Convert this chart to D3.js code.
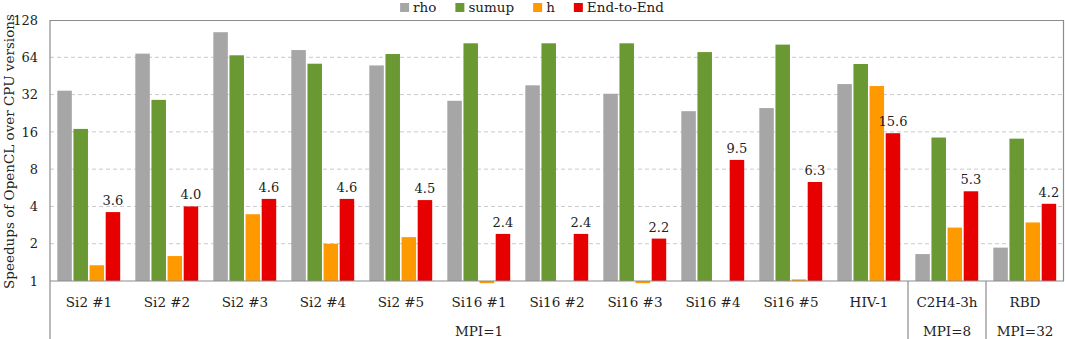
<!DOCTYPE html>
<html>
<head>
<meta charset="utf-8">
<script src="https://cdn.jsdelivr.net/npm/d3@7"></script>
<style>
  body { margin: 0; background: #fff; }
  svg text { font-family: "DejaVu Serif", serif; fill: #222; }
</style>
</head>
<body>
<script>
// ----- data -----
var categories = ["Si2 #1", "Si2 #2", "Si2 #3", "Si2 #4", "Si2 #5",
  "Si16 #1", "Si16 #2", "Si16 #3", "Si16 #4", "Si16 #5", "HIV-1", "C2H4-3h", "RBD"];
var seriesNames = ["rho", "sumup", "h", "End-to-End"];
var rho   = [34.4, 68.5, 102, 73.2, 55, 28.5, 38, 32.5, 23.5, 24.9, 38.9, 1.65, 1.86];
var sumup = [16.9, 29, 66.4, 56.8, 68, 83, 83, 83, 70.5, 81, 56.5, 14.4, 14.1];
var h     = [1.34, 1.59, 3.46, 2.0, 2.26, 0.96, null, 0.96, null, 1.03, 37.5, 2.7, 2.97];
var e2e   = [3.6, 4.0, 4.6, 4.6, 4.5, 2.4, 2.4, 2.2, 9.5, 6.3, 15.6, 5.3, 4.2];
var mpiGroups = [
  { label: "MPI=1", from: 0, to: 10 },
  { label: "MPI=8", from: 11, to: 11 },
  { label: "MPI=32", from: 12, to: 12 }
];
var yTicks = [1, 2, 4, 8, 16, 32, 64, 128];
var colors = ["#a6a6a6", "#6a9934", "#ff9900", "#e60000"];

var series = [rho, sumup, h, e2e];

// ----- layout -----
var W = 1065, H = 339;
var margin = { top: 20, right: 1, bottom: 58, left: 50 };
var width = W - margin.left - margin.right;
var height = H - margin.top - margin.bottom;

var svg = d3.select("body").append("svg")
  .attr("width", W).attr("height", H);

var g = svg.append("g")
  .attr("transform", "translate(" + margin.left + "," + margin.top + ")");

var x0 = d3.scaleBand().domain(categories).range([0, width]).padding(0);
var x1 = d3.scaleBand().domain(seriesNames)
  .range([x0.bandwidth() * 0.094, x0.bandwidth() * 0.9]).paddingInner(0.1);
var y = d3.scaleLog().base(2).domain([1, 128]).range([height, 0]);

// gridlines
g.selectAll(".grid").data(yTicks.slice(1, -1)).enter().append("line")
  .attr("x1", 0).attr("x2", width)
  .attr("y1", function(d) { return y(d); }).attr("y2", function(d) { return y(d); })
  .attr("stroke", "#c9c9c9").attr("stroke-dasharray", "4,3");

// frame top + right
g.append("path")
  .attr("d", "M0,0.5H" + (width - 0.5) + "V" + height)
  .attr("fill", "none").attr("stroke", "#8c8c8c").attr("stroke-width", 1.2);

// bars
var groups = g.selectAll(".grp").data(categories).enter().append("g")
  .attr("transform", function(d) { return "translate(" + x0(d) + ",0)"; });

groups.selectAll("rect")
  .data(function(d, i) {
    return seriesNames.map(function(s, k) { return { s: s, k: k, v: series[k][i] }; })
      .filter(function(e) { return e.v != null; });
  })
  .enter().append("rect")
  .attr("x", function(d) { return x1(d.s); })
  .attr("width", x1.bandwidth())
  .attr("y", function(d) { return Math.min(y(d.v), y(1)); })
  .attr("height", function(d) { return Math.max(Math.abs(y(1) - y(d.v)), 1); })
  .attr("fill", function(d) { return colors[d.k]; });

// End-to-End labels
groups.append("text")
  .attr("x", x1("End-to-End") + x1.bandwidth() / 2)
  .attr("y", function(d, i) { return y(e2e[i]) - 7; })
  .attr("text-anchor", "middle")
  .attr("font-size", 13)
  .text(function(d, i) { return d3.format(".1f")(e2e[i]); });

// y axis
var yAxis = d3.axisLeft(y).tickValues(yTicks).tickFormat(d3.format("d")).tickSize(0).tickPadding(12);
var ya = g.append("g").call(yAxis);
ya.select(".domain").remove();
ya.selectAll("text").attr("font-size", 13).style("font-family", "DejaVu Serif");

// axis lines
g.append("line").attr("x1", 0).attr("x2", width).attr("y1", height).attr("y2", height)
  .attr("stroke", "#8c8c8c").attr("stroke-width", 1.2);
g.append("line").attr("x1", 0).attr("x2", 0).attr("y1", 0).attr("y2", H - margin.top)
  .attr("stroke", "#8c8c8c").attr("stroke-width", 1.2);

// category labels
g.selectAll(".cat").data(categories).enter().append("text")
  .attr("x", function(d) { return x0(d) + x0.bandwidth() / 2; })
  .attr("y", height + 26)
  .attr("text-anchor", "middle")
  .attr("font-size", 13.5)
  .text(function(d) { return d; });

// MPI groups
mpiGroups.forEach(function(m, i) {
  var a = x0(categories[m.from]), b = x0(categories[m.to]) + x0.bandwidth();
  g.append("text")
    .attr("x", (a + b) / 2).attr("y", height + 55)
    .attr("text-anchor", "middle").attr("font-size", 13.5)
    .text(m.label);
  if (i > 0) {
    g.append("line").attr("x1", a).attr("x2", a)
      .attr("y1", height).attr("y2", H - margin.top)
      .attr("stroke", "#8c8c8c").attr("stroke-width", 1.2);
  }
});

// y title
svg.append("text")
  .attr("transform", "translate(14," + (margin.top + height / 2 + 1) + ") rotate(-90)")
  .attr("text-anchor", "middle")
  .attr("font-size", 13.5)
  .text("Speedups of OpenCL over CPU versions");

// legend
var legend = svg.append("g");
var lx = 0;
seriesNames.forEach(function(s, k) {
  var it = legend.append("g").attr("transform", "translate(" + lx + ",0)");
  it.append("rect").attr("x", 0).attr("y", 3).attr("width", 9).attr("height", 9).attr("fill", colors[k]);
  var t = it.append("text").attr("x", 13).attr("y", 12).attr("font-size", 13.5).text(s);
  lx += 13 + t.node().getComputedTextLength() + 19;
});
legend.attr("transform", "translate(" + (532 - (lx - 19) / 2) + ",0)");
</script>
</body>
</html>
